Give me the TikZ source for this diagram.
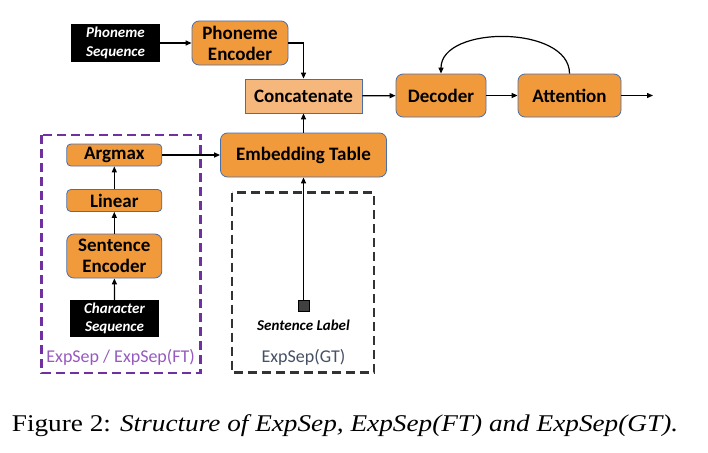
\documentclass[tikz,border=0pt]{standalone}
\usepackage{fontspec}
\setmainfont{Liberation Serif}
\newfontfamily\boxfont{Carlito}
\usetikzlibrary{arrows.meta}
\definecolor{boxorange}{RGB}{241,154,60}
\definecolor{catorange}{RGB}{245,183,124}
\definecolor{boxedge}{RGB}{74,110,170}
\definecolor{ftpurple}{RGB}{112,48,160}
\definecolor{ftlabel}{RGB}{150,90,190}
\definecolor{gtlabel}{RGB}{70,80,100}
\tikzset{
    block/.style={draw=boxedge, line width=0.8pt, fill=boxorange, rounded corners=7pt,
        inner sep=0pt, align=center, font=\boxfont\bfseries\fontsize{19}{21}\selectfont},
    smallblock/.style={block, rounded corners=4pt},
    catblock/.style={block, fill=catorange, rounded corners=0pt},
    inblock/.style={fill=black, text=white, inner sep=0pt, align=center,
        font=\boxfont\bfseries\itshape\fontsize{15}{18.5}\selectfont},
    link/.style={line width=1.2pt, -{Triangle[length=6pt,width=5pt]}},
    frame/.style={line width=2.8pt, dash pattern=on 9pt off 5pt}
}
\begin{document}
\begin{tikzpicture}[x=1pt,y=-1pt]
    \useasboundingbox (0,0) rectangle (708,452);
    % dashed frames
    \draw[frame, ftpurple] (41.7,135) rectangle (200.7,373);
    \draw[frame, black!80] (232,192.7) rectangle (374,372.7);
    % phoneme branch
    \node[inblock, minimum width=89pt, minimum height=37pt] (phseq) at (115.5,43) {Phoneme\\Sequence};
    \node[block, minimum width=96pt, minimum height=44pt] (phenc) at (240,43) {Phoneme\\Encoder};
    % decoder chain
    \node[catblock, minimum width=117pt, minimum height=34pt] (concat) at (303.5,96) {Concatenate};
    \node[block, minimum width=90pt, minimum height=43pt] (decoder) at (441,95.5) {Decoder};
    \node[block, minimum width=103pt, minimum height=43pt] (attention) at (569.5,95.5) {Attention};
    \coordinate (out) at (653,95.5);
    % sentence branch
    \node[block, minimum width=166pt, minimum height=44pt] (embed) at (303.5,155) {Embedding Table};
    \node[smallblock, minimum width=95pt, minimum height=22pt] (argmax) at (114.3,155) {Argmax};
    \node[smallblock, minimum width=95pt, minimum height=22pt] (linear) at (114.3,200.5) {Linear};
    \node[block, minimum width=95pt, minimum height=44pt] (senenc) at (114.3,256) {Sentence\\Encoder};
    \node[inblock, minimum width=89pt, minimum height=37pt] (chseq) at (114.5,318.5) {Character\\Sequence};
    \node[draw, line width=1pt, fill=black!75, minimum size=11pt, inner sep=0pt] (label) at (303.5,306) {};
    \node[font=\boxfont\bfseries\itshape\fontsize{15}{16}\selectfont] (labeltext) at (303.5,325) {Sentence Label};
    % frame labels
    \node[text=ftlabel, font=\boxfont\fontsize{18}{20}\selectfont] (ftname) at (120.7,357) {ExpSep / ExpSep(FT)};
    \node[text=gtlabel, font=\boxfont\fontsize{18}{20}\selectfont] (gtname) at (303.5,357) {ExpSep(GT)};
    % connectors
    \draw[link] (phseq) -- (phenc);
    \draw[link] (phenc.east) -| (concat.north);
    \draw[link] (concat) -- (decoder);
    \draw[link] (decoder) -- (attention);
    \draw[link] (attention) -- (out);
    \draw[link] (attention.north) .. controls (569.5,25) and (441,25) .. (decoder.north);
    \draw[link] (embed) -- (concat);
    \draw[link] (argmax) -- (embed);
    \draw[link] (linear) -- (argmax);
    \draw[link] (senenc) -- (linear);
    \draw[link] (chseq) -- (senenc);
    \draw[link] (label) -- (embed);
    % caption
    \node[anchor=base, font=\fontsize{24}{28}\selectfont] (caption) at (345,431)
        {\scalebox{1.135}[1]{Figure 2: \textit{Structure of ExpSep, ExpSep(FT) and ExpSep(GT).}}};
\end{tikzpicture}
\end{document}
